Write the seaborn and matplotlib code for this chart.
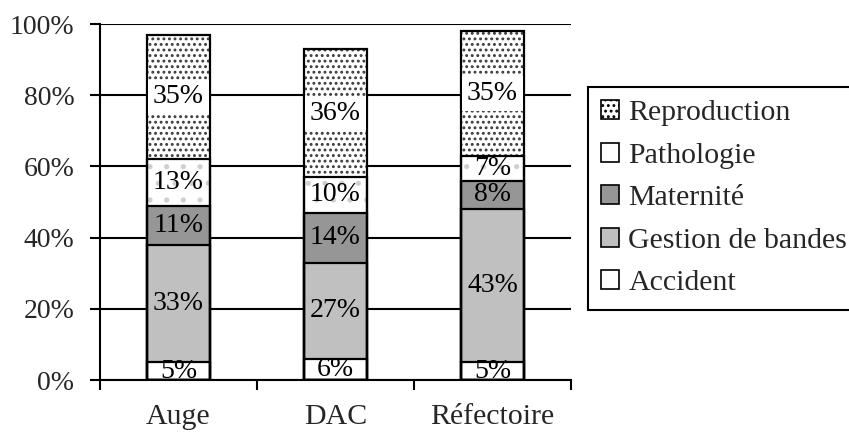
import numpy as np
import pandas as pd
import seaborn as sns
import matplotlib.pyplot as plt
from matplotlib.patches import Patch

# Share of each cause per feeding system (%)
sites = ["Auge", "DAC", "Réfectoire"]
accident = [5, 6, 5]
gestion = [33, 27, 43]
maternite = [11, 14, 8]
pathologie = [13, 10, 7]
reproduction = [35, 36, 35]

series_names = ["Accident", "Gestion de bandes", "Maternité", "Pathologie", "Reproduction"]
series_values = [accident, gestion, maternite, pathologie, reproduction]
series_colors = ["white", "#c0c0c0", "#969696", "white", "white"]
series_hatches = [None, None, None, ".", "..."]
hatch_colors = [None, None, None, "#cfcfcf", "#3a3a3a"]
label_boxed = [False, False, False, False, True]

y_ticks = [0, 20, 40, 60, 80, 100]

sns.set_theme(style="white")
plt.rcParams["font.family"] = ["Liberation Serif", "DejaVu Serif"]
plt.rcParams["hatch.linewidth"] = 1.3

fig = plt.figure(figsize=(8.49, 4.36), dpi=100)
ax = fig.add_axes([100 / 849, 1 - 380 / 436, (571 - 100) / 849, (380 - 24) / 436])

vals_arr = np.array(series_values, dtype=float)
tops = np.cumsum(vals_arr, axis=0)
bottoms = tops - vals_arr

BAR_W = 0.4
LW = 1.6

# fills: tallest cumulative layer first so lower layers sit on top
for i in reversed(range(len(series_names))):
    df = pd.DataFrame({"site": sites, "top": tops[i]})
    n_before = len(ax.patches)
    sns.barplot(data=df, x="site", y="top", color=series_colors[i], saturation=1,
                linewidth=0, width=BAR_W, errorbar=None, ax=ax, zorder=2)
    for p in ax.patches[n_before:]:
        p.set_linewidth(0)
        if series_hatches[i]:
            p.set_hatch(series_hatches[i])
            p.set_edgecolor(hatch_colors[i])
        else:
            p.set_edgecolor("none")

# black outlines for every segment boundary
for i in range(len(series_names)):
    df = pd.DataFrame({"site": sites, "top": tops[i]})
    sns.barplot(data=df, x="site", y="top", fill=False, color="black",
                linewidth=LW, width=BAR_W, errorbar=None, ax=ax, zorder=2.2)

# segment value labels
for i, vals in enumerate(series_values):
    for j, v in enumerate(vals):
        box = dict(facecolor="white", edgecolor="none", pad=3.5) if label_boxed[i] else None
        ax.text(j, bottoms[i][j] + v / 2, f"{v}%", ha="center", va="center",
                fontsize=20, color="black", zorder=2.3, clip_on=True, bbox=box)

ax.set_ylim(0, 100)
ax.set_xlim(-0.5, 2.5)
ax.set_yticks(y_ticks)
ax.set_yticklabels([f"{t}%" for t in y_ticks])
ax.set_xlabel("")
ax.set_ylabel("")

ax.set_axisbelow(True)
ax.yaxis.grid(True, color="black", linewidth=1.5)
ax.xaxis.grid(False)

for side in ["top", "right"]:
    ax.spines[side].set_visible(False)
for side in ["left", "bottom"]:
    ax.spines[side].set_visible(True)
    ax.spines[side].set_color("black")
    ax.spines[side].set_linewidth(1.5)
    ax.spines[side].set_zorder(2.5)

ax.set_xticks([0, 1, 2])
ax.set_xticklabels(sites)
ax.set_xticks([-0.5, 0.5, 1.5, 2.5], minor=True)
ax.tick_params(axis="x", which="major", length=0, pad=17, labelsize=21.5, bottom=True)
ax.tick_params(axis="x", which="minor", length=7.5, width=1.5, color="black",
               direction="out", bottom=True)
ax.tick_params(axis="y", which="major", length=7.5, width=1.5, color="black",
               direction="out", pad=11, labelsize=20, left=True)

handles = []
for i in reversed(range(len(series_names))):
    h = Patch(facecolor=series_colors[i], edgecolor="black",
              hatch=series_hatches[i] if i == len(series_names) - 1 else None,
              linewidth=1.2)
    handles.append(h)
labels = list(reversed(series_names))
leg = fig.legend(handles, labels, loc="upper left",
                 bbox_to_anchor=(588 / 849, 1 - 87 / 436),
                 frameon=True, fancybox=False, framealpha=1, edgecolor="black",
                 fontsize=21.5, handlelength=0.6, handleheight=0.6,
                 handletextpad=0.3, labelspacing=0.55, borderpad=0.45,
                 borderaxespad=0)
leg.get_frame().set_linewidth(1.5)

fig.savefig("out.png", dpi=100)
